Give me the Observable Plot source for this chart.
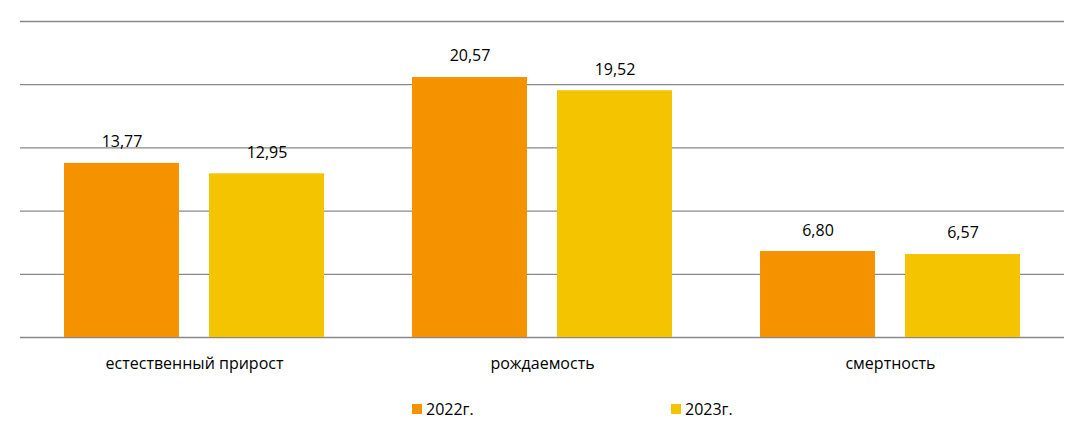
<!DOCTYPE html>
<html>
<head>
<meta charset="utf-8">
<script src="https://cdn.jsdelivr.net/npm/d3@7"></script>
<script src="https://cdn.jsdelivr.net/npm/@observablehq/plot@0.6"></script>
<style>
  body { margin: 0; background: #fff; font-family: "Open Sans", sans-serif; }
  #chart { width: 1091px; }
  .legend { display: flex; height: 36px; align-items: center; position: relative; font-size: 16px; color: #000; }
  .legend .item { position: absolute; display: flex; align-items: center; top: 10px; }
  .legend .sw { width: 10px; height: 10px; margin-right: 4px; }
</style>
</head>
<body>
<div id="chart"></div>
<script>
const categories = ["естественный прирост", "рождаемость", "смертность"];
const years = ["2022г.", "2023г."];
const values2022 = [13.77, 20.57, 6.80];
const values2023 = [12.95, 19.52, 6.57];
const gridTicks = [0, 5, 10, 15, 20, 25];
const colors = ["#F59200", "#F5C400"];

const data = [];
categories.forEach((c, i) => {
  data.push({category: c, year: years[0], value: values2022[i]});
  data.push({category: c, year: years[1], value: values2023[i]});
});
const fmt = v => v.toFixed(2).replace(".", ",");

const plot = Plot.plot({
  width: 1091,
  height: 388,
  marginTop: 21,
  marginBottom: 51,
  marginLeft: 19,
  marginRight: 26,
  style: {fontFamily: "Open Sans, sans-serif", fontSize: "16px", color: "#000", background: "#fff"},
  fx: {domain: categories, padding: 0, label: null, tickSize: 0, tickPadding: 20, axis: "bottom"},
  x: {domain: years, paddingInner: 0.205, paddingOuter: 0.3, axis: null},
  y: {domain: [0, 25], axis: null},
  color: {domain: years, range: colors},
  marks: [
    Plot.ruleY(gridTicks, {stroke: "#898989", strokeWidth: 1.3, strokeOpacity: 1}),
    Plot.barY(data, {fx: "category", x: "year", y: "value", fill: "year"}),
    Plot.text(data, {fx: "category", x: "year", y: "value", text: d => fmt(d.value), lineAnchor: "bottom", dy: -16, fill: "#000", fontSize: 16})
  ]
});
document.getElementById("chart").appendChild(plot);

const legend = document.createElement("div");
legend.className = "legend";
const lx = [412, 671];
years.forEach((y, i) => {
  const it = document.createElement("div");
  it.className = "item";
  it.style.left = lx[i] + "px";
  const sw = document.createElement("span");
  sw.className = "sw";
  sw.style.background = colors[i];
  const t = document.createElement("span");
  t.textContent = y;
  it.appendChild(sw); it.appendChild(t);
  legend.appendChild(it);
});
document.getElementById("chart").appendChild(legend);
</script>
</body>
</html>
